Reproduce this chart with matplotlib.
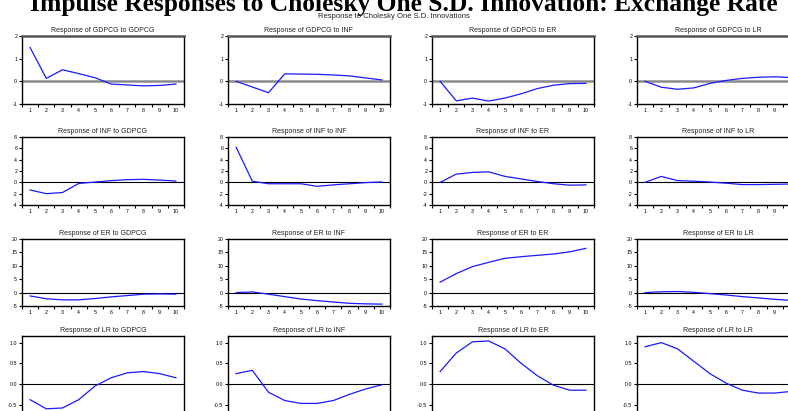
import matplotlib
matplotlib.use("Agg")
import matplotlib.pyplot as plt
import numpy as np

plt.rcParams['font.family'] = ['Liberation Sans', 'DejaVu Sans']

periods = list(range(1, 11))
variables = ["GDPCG", "INF", "ER", "LR"]

# responses[response_var][shock_var]
resp_gdpcg = {
    "GDPCG": [1.49, 0.13, 0.51, 0.34, 0.16, -0.12, -0.16, -0.20, -0.18, -0.12],
    "INF":   [0.00, -0.25, -0.50, 0.33, 0.32, 0.31, 0.28, 0.24, 0.15, 0.06],
    "ER":    [0.00, -0.86, -0.74, -0.87, -0.74, -0.55, -0.32, -0.17, -0.10, -0.09],
    "LR":    [0.00, -0.26, -0.35, -0.29, -0.09, 0.04, 0.13, 0.18, 0.20, 0.17],
}
resp_inf = {
    "GDPCG": [-1.35, -2.00, -1.80, -0.20, 0.05, 0.30, 0.47, 0.53, 0.40, 0.22],
    "INF":   [6.20, 0.20, -0.25, -0.25, -0.25, -0.70, -0.45, -0.25, -0.05, 0.07],
    "ER":    [0.00, 1.45, 1.75, 1.85, 1.05, 0.60, 0.15, -0.25, -0.50, -0.45],
    "LR":    [0.00, 1.05, 0.30, 0.20, 0.05, -0.15, -0.40, -0.40, -0.35, -0.30],
}
resp_er = {
    "GDPCG": [-1.25, -2.30, -2.70, -2.70, -2.20, -1.60, -1.10, -0.60, -0.50, -0.60],
    "INF":   [0.00, 0.25, -0.60, -1.50, -2.40, -3.00, -3.50, -4.00, -4.20, -4.30],
    "ER":    [3.90, 7.10, 9.70, 11.30, 12.80, 13.40, 13.90, 14.40, 15.20, 16.50],
    "LR":    [0.00, 0.30, 0.40, 0.10, -0.40, -0.90, -1.50, -2.00, -2.50, -2.90],
}
resp_lr = {
    "GDPCG": [-0.38, -0.60, -0.58, -0.38, -0.05, 0.15, 0.27, 0.30, 0.25, 0.15],
    "INF":   [0.25, 0.33, -0.20, -0.40, -0.47, -0.47, -0.40, -0.25, -0.12, -0.02],
    "ER":    [0.30, 0.75, 1.02, 1.04, 0.85, 0.50, 0.20, -0.03, -0.15, -0.15],
    "LR":    [0.90, 1.00, 0.85, 0.55, 0.25, 0.02, -0.15, -0.22, -0.22, -0.18],
}
responses = {"GDPCG": resp_gdpcg, "INF": resp_inf, "ER": resp_er, "LR": resp_lr}

y_ticks = {
    "GDPCG": [-1, 0, 1, 2],
    "INF": [-4, -2, 0, 2, 4, 6, 8],
    "ER": [-5, 0, 5, 10, 15, 20],
    "LR": [-0.5, 0.0, 0.5, 1.0],
}
y_limits = {
    "GDPCG": (-1, 2),
    "INF": (-4, 8),
    "ER": (-5, 20),
    "LR": (-0.75, 1.16),
}
y_fmt = {"GDPCG": "{:g}", "INF": "{:g}", "ER": "{:g}", "LR": "{:.1f}"}

W, H = 788, 411
fig = plt.figure(figsize=(W / 100, H / 100), dpi=100)
fig.patch.set_facecolor("white")

col_left = [22, 228, 432, 637]
col_width = 162
row_top = [36, 137, 239, 336]
row_height = [68, 68, 67, 79]

for r, rv in enumerate(variables):
    for c, sv in enumerate(variables):
        l = col_left[c] / W
        b = (H - row_top[r] - row_height[r]) / H
        ax = fig.add_axes([l, b, col_width / W, row_height[r] / H])
        ax.plot(periods, responses[rv][sv], color="#1a1aff", lw=0.9, zorder=3)
        zc = "#8a8a8a" if r == 0 else "black"
        zw = 1.8 if r == 0 else 0.8
        ax.axhline(0, color=zc, lw=zw, zorder=2)
        ax.set_xlim(0.5, 10.5)
        ax.set_ylim(*y_limits[rv])
        ax.set_xticks(periods)
        ax.set_xticklabels([str(p) for p in periods])
        ax.set_xticks(np.arange(0.5, 11, 1.0), minor=True)
        ax.set_yticks(y_ticks[rv])
        ax.set_yticklabels([y_fmt[rv].format(t) for t in y_ticks[rv]])
        ax.tick_params(axis="x", which="major", length=0, labelsize=3.8, pad=3)
        ax.tick_params(axis="x", which="minor", length=2, width=0.8)
        ax.tick_params(axis="y", which="major", length=2, width=0.8,
                       labelsize=3.8, pad=1.5)
        for s in ax.spines.values():
            s.set_linewidth(1.0)
        if r == 0:
            ax.spines["top"].set_color("#555555")
            ax.spines["top"].set_linewidth(1.8)
        ax.set_title(f"Response of {rv} to {sv}", fontsize=5.0, pad=3,
                     color="#222222")

fig.text(404 / W, 1 - 11 / H, "Impulse Responses to Cholesky One S.D. Innovation: Exchange Rate",
         ha="center", va="baseline", fontsize=18.4, fontweight="bold",
         family=["Liberation Serif", "DejaVu Serif"])
fig.text(0.5, 1 - 18 / H, "Response to Cholesky One S.D. Innovations",
         ha="center", va="baseline", fontsize=5.5, color="#222222")

fig.savefig("out.png", dpi=100)
